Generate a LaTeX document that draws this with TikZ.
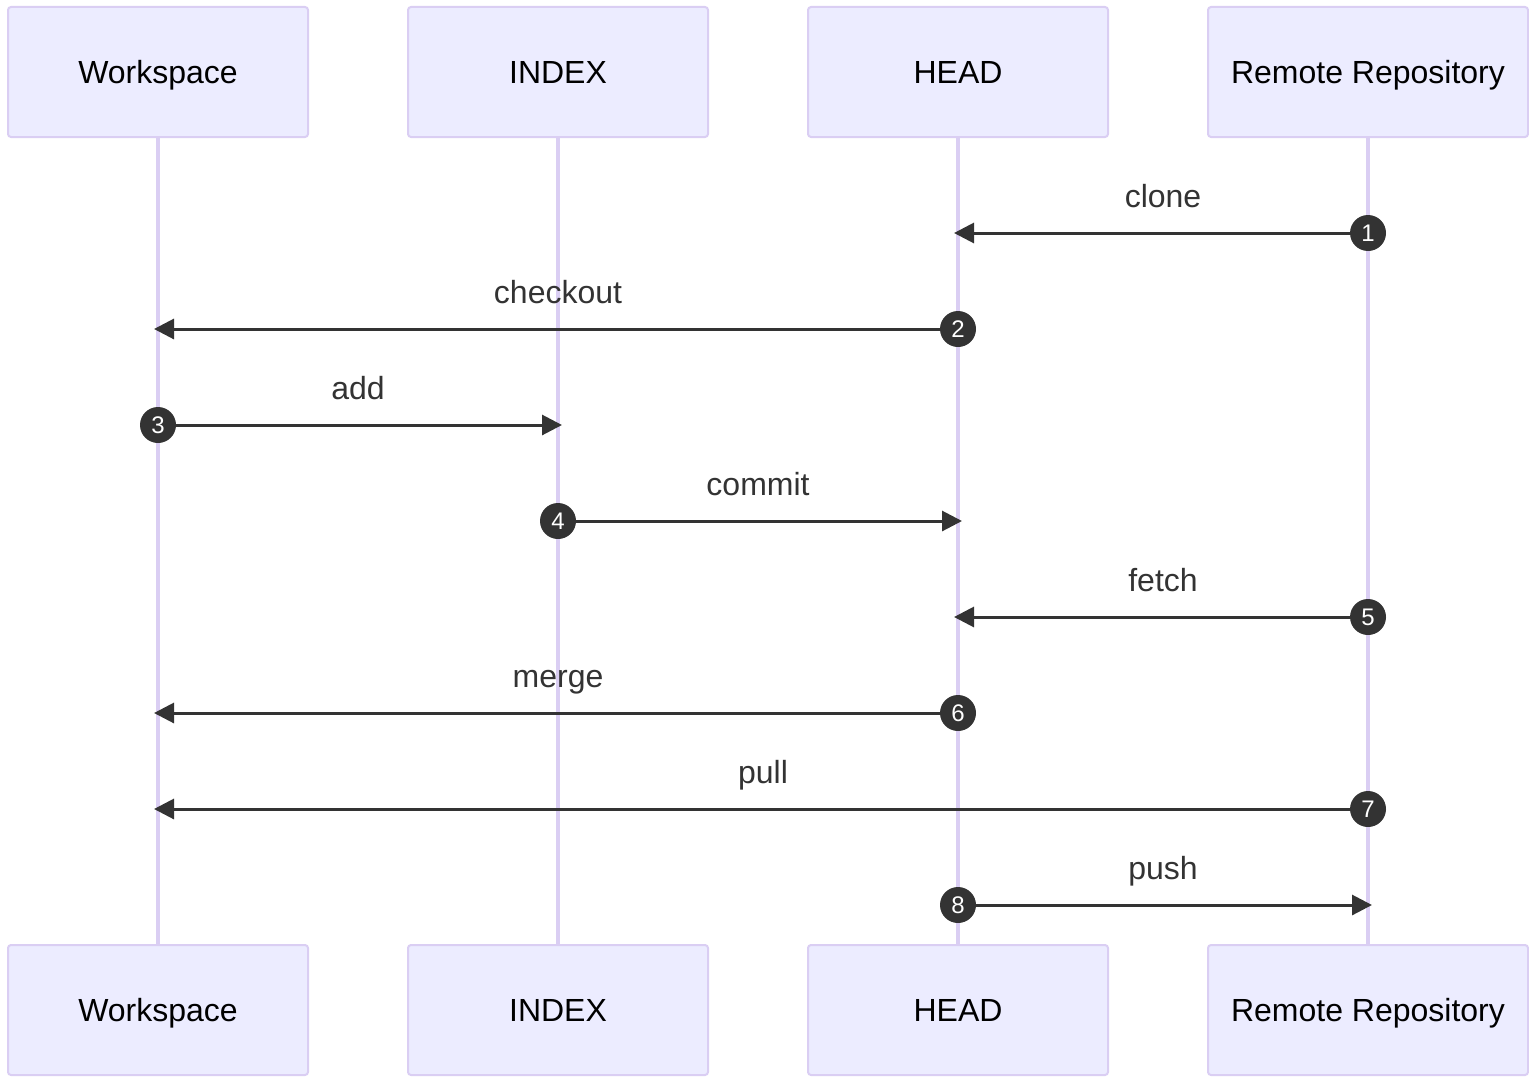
\documentclass[tikz,border=0pt]{standalone}
\usepackage{fontspec}
\setmainfont{Liberation Sans}
\usetikzlibrary{arrows.meta,calc}

\definecolor{actorfill}{HTML}{ECECFF}
\definecolor{actorline}{HTML}{DACEF3}
\definecolor{msgcolor}{HTML}{333333}

\tikzset{
  actor/.style={draw=actorline, fill=actorfill, line width=1pt, rounded corners=1.5pt,
    minimum height=65pt, inner sep=0pt, text height=11.5pt, text depth=0pt,
    font=\fontsize{16}{19}\selectfont},
  lifeline/.style={draw=actorline, line width=2pt},
  msg/.style={draw=msgcolor, line width=1.5pt, shorten >=-2pt,
    -{Triangle[length=10pt,width=10pt]}},
  stepnum/.style={circle, fill=msgcolor, minimum size=18pt, inner sep=0pt,
    text=white, font=\fontsize{12}{14}\selectfont},
  msglabel/.style={text=msgcolor, anchor=base, inner sep=0pt, font=\fontsize{16}{19}\selectfont},
}

\begin{document}
\begin{tikzpicture}[x=0.5pt,y=-0.5pt]
  \useasboundingbox (0,0) rectangle (1529,1081);

  % actors, top and bottom, with their lifelines
  \foreach \name/\x/\w/\txt in {ws/158/150/Workspace, idx/558/150/INDEX,
      head/958/150/HEAD, remote/1368/160/Remote Repository} {
    \node[actor, minimum width=\w pt] (\name-top) at (\x,72) {\txt};
    \node[actor, minimum width=\w pt] (\name-bot) at (\x,1010) {\txt};
    \draw[lifeline] (\name-top) -- (\name-bot);
  }

  % numbered messages
  \foreach \i/\src/\dst/\y/\lbl in {1/remote/head/233/clone, 2/head/ws/329/checkout,
      3/ws/idx/425/add, 4/idx/head/521/commit, 5/remote/head/617/fetch,
      6/head/ws/713/merge, 7/remote/ws/809/pull, 8/head/remote/905/push} {
    \coordinate (s\i) at (\src-top |- 0,\y);
    \coordinate (d\i) at (\dst-top |- 0,\y);
    \node[msglabel] (l\i) at ($(s\i)!0.5!(d\i)+(0,-26)$) {\lbl};
    \node[stepnum] (n\i) at (s\i) {\i};
    \draw[msg] (n\i) -- (d\i);
  }
\end{tikzpicture}
\end{document}
